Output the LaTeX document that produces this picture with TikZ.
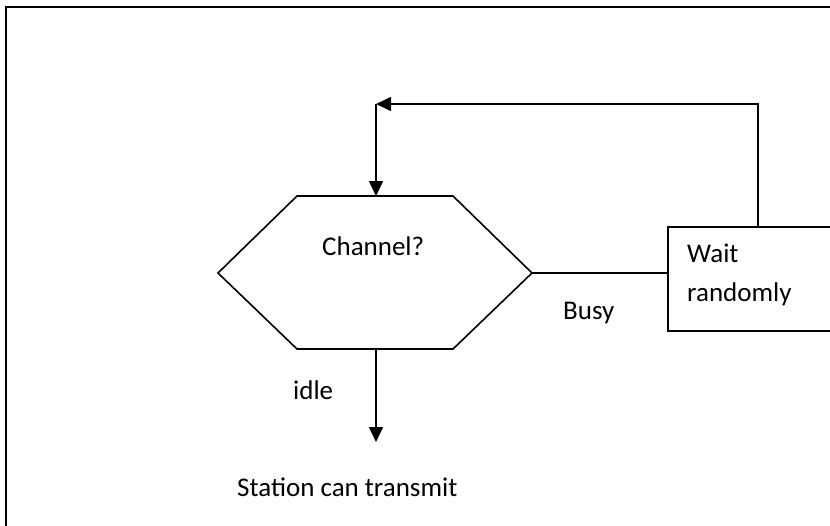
\documentclass[tikz,border=0pt]{standalone}
\usepackage{fontspec}
\setmainfont{Carlito}
\usetikzlibrary{arrows.meta}
\begin{document}
\begin{tikzpicture}[x=1pt,y=-1pt,
  line/.style={draw=black,line width=1.6pt},
  arr/.style={line,-{Triangle[length=15pt,width=14pt]}},
  lbl/.style={anchor=base west,inner sep=0pt,font=\fontsize{27}{32}\selectfont},
  boxst/.style={draw=black,line width=1.6pt,minimum width=180pt,minimum height=104pt,anchor=north west,inner sep=0pt}]
\useasboundingbox (0,0) rectangle (830,525);
\clip (0,0) rectangle (830,525);
% frame
\draw[line width=2.4pt] (6,7) rectangle (850,545);
% hexagon
\coordinate (hexL) at (218,273);
\coordinate (hexTL) at (297,196);
\coordinate (hexT) at (376,196);
\coordinate (hexTR) at (453,196);
\coordinate (hexR) at (532,273);
\coordinate (hexBR) at (453,349);
\coordinate (hexB) at (376,349);
\coordinate (hexBL) at (297,349);
\draw[line,line join=miter] (hexL) -- (hexTL) -- (hexTR) -- (hexR) -- (hexBR) -- (hexBL) -- cycle;
\node[lbl] (chan) at (322,255) {Channel?};
% box
\node[boxst] (box) at (667,226) {};
\node[lbl] (wait) at (687,262) {Wait};
\node[lbl] (rand) at (687,301) {randomly};
% connectors
\coordinate (corner) at (376,104);
\coordinate (out) at (376,442);
\draw[line] (hexR) -- (hexR -| box.west);
\draw[arr] (box.north) |- (corner);
\draw[arr] (corner) -- (hexT);
\draw[arr] (hexB) -- (out);
% labels
\node[lbl] (busy) at (563,319) {Busy};
\node[lbl] (idle) at (293,399) {idle};
\node[lbl] (stat) at (237,496) {Station can transmit};
\end{tikzpicture}
\end{document}
